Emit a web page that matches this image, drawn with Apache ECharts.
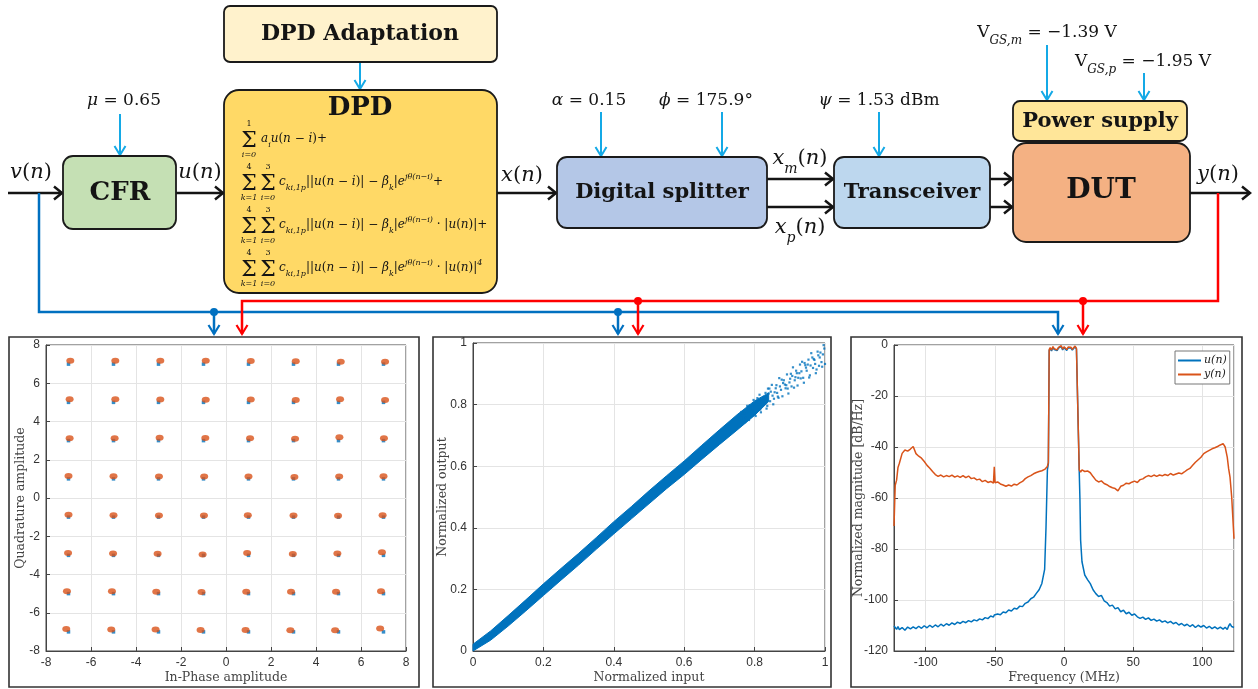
<!DOCTYPE html>
<html>
<head>
<meta charset="utf-8">
<script src="https://cdn.jsdelivr.net/npm/echarts@6/dist/echarts.min.js"></script>
<style>
html,body{margin:0;padding:0;background:#fff}
#main{width:1258px;height:689px}
</style>
</head>
<body>
<div id="main"></div>
<script>
// ---------- constellation (64-QAM) ----------
const qamLevels = [-7, -5, -3, -1, 1, 3, 5, 7];
// received symbol clusters, one row per quadrature level (top to bottom)
const rxRow7  = [[-6.92,7.18],[-4.92,7.18],[-2.92,7.17],[-0.9,7.17],[1.1,7.16],[3.1,7.15],[5.1,7.12],[7.07,7.13]];
const rxRow5  = [[-6.95,5.16],[-4.92,5.16],[-2.92,5.15],[-0.9,5.14],[1.1,5.15],[3.1,5.12],[5.07,5.16],[7.07,5.12]];
const rxRow3  = [[-6.95,3.13],[-4.95,3.13],[-2.95,3.15],[-0.92,3.14],[1.07,3.12],[3.07,3.1],[5.04,3.17],[7.02,3.12]];
const rxRow1  = [[-7.0,1.15],[-5.0,1.14],[-2.98,1.13],[-0.97,1.12],[1.0,1.13],[3.04,1.1],[5.03,1.13],[7.0,1.14]];
const rxRowM1 = [[-7.0,-0.88],[-5.0,-0.9],[-2.98,-0.92],[-0.98,-0.92],[0.97,-0.9],[3.0,-0.91],[4.98,-0.93],[6.96,-0.9]];
const rxRowM3 = [[-7.02,-2.88],[-5.02,-2.9],[-3.04,-2.92],[-1.04,-2.95],[0.94,-2.88],[2.97,-2.93],[4.95,-2.9],[6.93,-2.84]];
const rxRowM5 = [[-7.07,-4.87],[-5.07,-4.88],[-3.1,-4.9],[-1.09,-4.92],[0.9,-4.9],[2.89,-4.9],[4.89,-4.9],[6.89,-4.88]];
const rxRowM7 = [[-7.1,-6.85],[-5.1,-6.87],[-3.13,-6.88],[-1.13,-6.9],[0.87,-6.9],[2.86,-6.92],[4.85,-6.92],[6.85,-6.82]];

// ---------- AM/AM ----------
const amIn   = [0, 0.05, 0.1, 0.15, 0.2, 0.25, 0.3, 0.35, 0.4, 0.45, 0.5, 0.55, 0.6, 0.65, 0.7, 0.75, 0.8, 0.84];
const amLow  = [0, 0.035, 0.081, 0.13, 0.18, 0.23, 0.279, 0.33, 0.38, 0.429, 0.478, 0.527, 0.573, 0.622, 0.67, 0.717, 0.765, 0.81];
const amHigh = [0.022, 0.065, 0.115, 0.166, 0.218, 0.268, 0.317, 0.368, 0.42, 0.469, 0.52, 0.569, 0.617, 0.668, 0.718, 0.767, 0.812, 0.838];
const amSpread = [
  [0.762,0.776],[0.766,0.741],[0.771,0.771],[0.775,0.757],[0.779,0.796],[0.784,0.75],[0.788,0.79],[0.792,0.779],
  [0.797,0.815],[0.801,0.769],[0.805,0.81],[0.81,0.785],[0.814,0.832],[0.818,0.775],[0.823,0.814],[0.827,0.805],
  [0.831,0.838],[0.836,0.796],[0.84,0.836],[0.844,0.811],[0.849,0.864],[0.853,0.801],[0.857,0.84],[0.862,0.863],
  [0.866,0.826],[0.87,0.886],[0.875,0.848],[0.879,0.827],[0.883,0.879],[0.888,0.853],[0.892,0.898],[0.896,0.836],
  [0.901,0.884],[0.905,0.859],[0.909,0.921],[0.914,0.879],[0.918,0.91],[0.922,0.862],[0.927,0.902],[0.931,0.885],
  [0.935,0.939],[0.94,0.871],[0.944,0.928],[0.948,0.91],[0.953,0.946],[0.957,0.895],[0.961,0.967],[0.966,0.919],
  [0.97,0.945],[0.974,0.902],[0.979,0.972],[0.983,0.926],[0.987,0.969],[0.992,0.923],[0.996,0.993],[1.0,0.932],
  [0.764,0.764],[0.773,0.743],[0.782,0.791],[0.79,0.764],[0.799,0.793],[0.808,0.821],[0.816,0.784],[0.825,0.823],
  [0.834,0.787],[0.842,0.852],[0.851,0.829],[0.86,0.853],[0.868,0.822],[0.877,0.881],[0.886,0.865],[0.894,0.852],
  [0.903,0.9],[0.912,0.855],[0.92,0.902],[0.929,0.93],[0.938,0.887],[0.946,0.92],[0.955,0.888],[0.964,0.953],
  [0.972,0.932],[0.981,0.96],[0.99,0.938],[0.998,0.982],
  [0.769,0.756],[0.786,0.798],[0.803,0.763],[0.82,0.809],[0.838,0.852],[0.855,0.819],[0.872,0.859],[0.89,0.863],
  [0.907,0.893],[0.924,0.887],[0.942,0.935],[0.959,0.927],[0.976,0.914],[0.994,0.963],
  [0.846,0.842],[0.864,0.838],[0.881,0.87],[0.899,0.872],[0.916,0.889],[0.933,0.908],[0.951,0.93],[0.968,0.948],
  [0.985,0.953],[0.829,0.822],[0.812,0.8],[0.795,0.782]
];

// ---------- spectra ----------
const freqMHz = [
  -122.88,-122,-121,-120,-119,-117,-115,-113,-111,-109,
  -107,-105,-103,-101,-99,-97,-95,-93,-91,-89,
  -87,-85,-83,-81,-79,-77,-75,-73,-71,-69,
  -67,-65,-63,-61,-59,-57,-55,-53,-51,-50.4,
  -49.8,-48,-46,-44,-42,-40,-38,-36,-34,-32,
  -30,-28,-26,-24,-22,-20,-18,-16,-14,-13,
  -12,-11.3,-10.7,-10,-9,-8,-7,-6,-5,-4,-3,-2,-1,0,1,2,3,4,5,6,7,8,9,10,10.4,11,
  11.5,12,13,15,17,19,21,23,25,27,
  29,31,33,35,37,39,41,43,45,47,
  49,51,53,55,57,59,61,63,65,67,
  69,71,73,75,77,79,81,83,85,87,
  89,91,93,95,97,99,101,103,105,107,
  109,111,113,115,116.5,118,119,120,121.2,122.88
];
const yPsd = [
  -71.0,-55.0,-53.0,-48.0,-46.4,-42.5,-41.2,-41.6,-40.8,-39.8,
  -42.6,-43.6,-44.4,-45.7,-47.2,-48.3,-49.6,-50.8,-51.5,-51.0,
  -51.7,-51.2,-51.6,-51.0,-51.8,-51.3,-51.9,-51.2,-52.0,-51.4,
  -52.4,-52.1,-52.9,-52.6,-53.6,-53.1,-53.9,-53.5,-54.2,-47.8,
  -54.0,-53.7,-54.5,-54.9,-55.4,-54.9,-55.3,-54.6,-54.9,-54.1,
  -53.5,-52.4,-51.7,-51.2,-50.5,-50.0,-49.6,-49.3,-48.8,-48.5,
  -47.6,-46.0,-1.8,-1.0,-2.0,-0.6,-1.5,-0.8,-1.9,-0.9,-1.2,-0.3,-1.6,-0.7,-1.1,-1.8,-0.8,-1.4,-0.9,-1.7,-1.0,-0.4,-1.3,-0.8,-2.0,-49.0,
  -49.3,-49.8,-49.0,-49.6,-49.4,-50.1,-51.6,-53.0,-53.7,-53.3,
  -54.3,-54.8,-55.5,-56.0,-56.3,-57.2,-55.4,-55.0,-54.2,-54.4,
  -53.8,-53.4,-53.9,-52.8,-52.5,-51.7,-51.2,-51.6,-51.0,-51.5,
  -51.0,-51.3,-50.8,-51.2,-50.4,-51.0,-50.6,-50.2,-50.5,-49.8,
  -49.0,-48.4,-47.2,-46.0,-45.0,-44.0,-42.6,-41.9,-41.3,-40.7,
  -40.3,-39.8,-39.2,-38.7,-40.0,-44.0,-48.5,-51.8,-59.5,-76.0
];
const uPsd = [
  -110.2,-110.9,-111.5,-110.4,-111.6,-110.8,-111.9,-110.6,-111.3,-110.5,
  -111.2,-110.3,-111.1,-110.1,-110.9,-109.9,-110.7,-109.8,-110.5,-109.5,
  -110.2,-109.3,-109.9,-109.0,-109.6,-108.7,-109.2,-108.4,-108.9,-108.1,
  -108.6,-107.8,-108.2,-107.4,-107.8,-106.9,-107.3,-106.3,-106.7,-105.9,
  -106.4,-105.5,-105.8,-104.7,-105.0,-103.9,-104.3,-103.2,-103.5,-102.4,
  -102.6,-101.3,-100.8,-99.5,-98.9,-97.4,-96.0,-93.5,-88.0,-71.5,
  -49.0,-46.5,-2.2,-1.3,-2.3,-0.9,-1.8,-1.1,-2.2,-1.2,-1.5,-0.6,-1.9,-1.0,-1.4,-2.1,-1.1,-1.7,-1.2,-2.0,-1.3,-0.7,-1.6,-1.1,-2.3,-49.3,
  -60.0,-76.5,-85.0,-90.2,-92.0,-93.6,-96.0,-97.5,-98.6,-98.2,
  -100.3,-101.0,-102.4,-102.0,-103.5,-103.0,-104.6,-104.0,-105.4,-104.8,
  -106.0,-105.5,-106.6,-107.2,-106.7,-107.6,-107.0,-108.0,-107.5,-108.3,
  -107.8,-108.7,-108.2,-109.0,-108.4,-109.3,-108.8,-109.8,-109.2,-110.1,
  -109.5,-110.4,-109.7,-110.8,-109.9,-110.6,-110.0,-111.0,-110.3,-111.2,
  -110.5,-111.3,-110.6,-111.4,-110.7,-111.6,-110.2,-109.3,-110.4,-110.8
];
const legendNames = ['u(n)', 'y(n)'];

// ---------- styling ----------
const SERIF = '"DejaVu Serif", serif';
const AXFONT = '"Liberation Sans", Arial, sans-serif';
const C_BLUE = '#0072BD', C_ORANGE = '#D95319';
const C_FEED_BLUE = '#0070C0', C_FEED_RED = '#FF0000', C_PARAM = '#14A9E6';
const INK = '#141414';

// ---------- block diagram ----------
const g = [];
function rbox(x, y, w, h, r, fill) {
  g.push({type: 'rect', z: 10, shape: {x, y, width: w, height: h, r}, style: {fill, stroke: '#1a1a1a', lineWidth: 1.8}});
}
function line(points, color, width) {
  g.push({type: 'polyline', z: 6, shape: {points}, style: {stroke: color, lineWidth: width, fill: 'none', lineJoin: 'miter'}});
}
function headR(x, y, color, w) { line([[x - 8, y - 6.5], [x, y], [x - 8, y + 6.5]], color, w); }
function headD(x, y, color, w) { line([[x - 5.5, y - 9], [x, y], [x + 5.5, y - 9]], color, w); }
function dot(x, y, color) { g.push({type: 'circle', z: 8, shape: {cx: x, cy: y, r: 4}, style: {fill: color}}); }
function boldLabel(x, y, text, size) {
  g.push({type: 'text', z: 20, x, y, style: {text, fontFamily: SERIF, fontWeight: 'bold', fontSize: size, fill: INK, align: 'center', verticalAlign: 'middle'}});
}
function math(x, y, text, size, align) {
  const sc = Math.round(size * 0.68);
  const lh = Math.round(size * 1.6);
  g.push({type: 'text', z: 20, x, y, style: {
    text, align: align || 'center', verticalAlign: 'middle', fontFamily: SERIF, fontSize: size, fill: INK,
    rich: {
      i: {fontStyle: 'italic', fontFamily: SERIF, fontSize: size, fill: INK, lineHeight: lh},
      r: {fontFamily: SERIF, fontSize: size, fill: INK, lineHeight: lh},
      sb: {fontStyle: 'italic', fontFamily: SERIF, fontSize: sc, fill: INK, verticalAlign: 'bottom'},
      sp: {fontStyle: 'italic', fontFamily: SERIF, fontSize: sc, fill: INK, verticalAlign: 'top'}
    }
  }});
}
function sigma(x, y, up, low) {
  g.push({type: 'text', z: 20, x, y, style: {text: 'Σ', fontFamily: SERIF, fontSize: 22, fill: INK, align: 'center', verticalAlign: 'middle'}});
  g.push({type: 'text', z: 20, x, y: y - 17, style: {text: up, fontFamily: SERIF, fontSize: 8, fill: INK, align: 'center', verticalAlign: 'middle'}});
  g.push({type: 'text', z: 20, x, y: y + 14, style: {text: low, fontFamily: SERIF, fontStyle: 'italic', fontSize: 8, fill: INK, align: 'center', verticalAlign: 'middle'}});
}

// blocks
rbox(224, 6, 273, 56, 6, '#FFF2CC');
rbox(224, 90, 273, 203, 15, '#FFD966');
rbox(63, 156, 113, 73, 10, '#C5E0B4');
rbox(557, 157, 210, 71, 10, '#B4C7E7');
rbox(834, 157, 156, 71, 10, '#BDD7EE');
rbox(1013, 143, 177, 99, 13, '#F4B183');
rbox(1013, 101, 174, 40, 7, '#FFE699');

boldLabel(360, 34, 'DPD Adaptation', 22);
boldLabel(360, 108, 'DPD', 26);
boldLabel(120, 193, 'CFR', 26);
boldLabel(662, 193, 'Digital splitter', 21);
boldLabel(912, 193, 'Transceiver', 21);
boldLabel(1101, 191, 'DUT', 28);
boldLabel(1100, 122, 'Power supply', 21);

// DPD model terms
const TERM = '{i|c}{sb|ki,1p}{r|||}{i|u}{r|(}{i|n}{r| − }{i|i}{r|)| − }{i|β}{sb|k}{r||}{i|e}{sp|jθ(n−i)}';
sigma(249, 141, '1', 'i=0');
math(261, 139, '{i|a}{sb|i}{i|u}{r|(}{i|n}{r| − }{i|i}{r|)+}', 12, 'left');
sigma(249, 184, '4', 'k=1'); sigma(268, 184, '3', 'i=0');
math(279, 182, TERM + '{r|+}', 12, 'left');
sigma(249, 227, '4', 'k=1'); sigma(268, 227, '3', 'i=0');
math(279, 225, TERM + '{r| · |}{i|u}{r|(}{i|n}{r|)|+}', 12, 'left');
sigma(249, 270, '4', 'k=1'); sigma(268, 270, '3', 'i=0');
math(279, 268, TERM + '{r| · |}{i|u}{r|(}{i|n}{r|)|}{sp|4}', 12, 'left');

// signal path
line([[8, 193], [62, 193]], INK, 2.5); headR(62, 193, INK, 2.5);
line([[176, 193], [223, 193]], INK, 2.5); headR(223, 193, INK, 2.5);
line([[497, 193], [556, 193]], INK, 2.5); headR(556, 193, INK, 2.5);
line([[767, 179], [833, 179]], INK, 2.5); headR(833, 179, INK, 2.5);
line([[767, 207], [833, 207]], INK, 2.5); headR(833, 207, INK, 2.5);
line([[990, 179], [1012, 179]], INK, 2.5); headR(1012, 179, INK, 2.5);
line([[990, 207], [1012, 207]], INK, 2.5); headR(1012, 207, INK, 2.5);
line([[1190, 193], [1250, 193]], INK, 2.5); headR(1250, 193, INK, 2.5);

math(31, 173, '{i|v}{r|(}{i|n}{r|)}', 21);
math(200, 173, '{i|u}{r|(}{i|n}{r|)}', 21);
math(522, 176, '{i|x}{r|(}{i|n}{r|)}', 21);
math(800, 159, '{i|x}{sb|m}{r|(}{i|n}{r|)}', 21);
math(800, 228, '{i|x}{sb|p}{r|(}{i|n}{r|)}', 21);
math(1218, 175, '{i|y}{r|(}{i|n}{r|)}', 21);

// tuning parameters
math(124, 101, '{i|μ}{r| = 0.65}', 17);
math(589, 101, '{i|α}{r| = 0.15}', 17);
math(706, 101, '{i|ϕ}{r| = 175.9°}', 17);
math(879, 101, '{i|ψ}{r| = 1.53 dBm}', 17);
math(1047, 33, '{r|V}{sb|GS,m}{r| = −1.39 V}', 17);
math(1143, 62, '{r|V}{sb|GS,p}{r| = −1.95 V}', 17);

line([[360, 62], [360, 89]], C_PARAM, 2); headD(360, 89, C_PARAM, 2);
line([[120, 114], [120, 155]], C_PARAM, 2); headD(120, 155, C_PARAM, 2);
line([[601, 112], [601, 156]], C_PARAM, 2); headD(601, 156, C_PARAM, 2);
line([[722, 112], [722, 156]], C_PARAM, 2); headD(722, 156, C_PARAM, 2);
line([[879, 112], [879, 156]], C_PARAM, 2); headD(879, 156, C_PARAM, 2);
line([[1047, 45], [1047, 100]], C_PARAM, 2); headD(1047, 100, C_PARAM, 2);
line([[1144, 73], [1144, 100]], C_PARAM, 2); headD(1144, 100, C_PARAM, 2);

// observation paths to the plots
line([[39, 193], [39, 312], [1058, 312], [1058, 334]], C_FEED_BLUE, 2.5); headD(1058, 334, C_FEED_BLUE, 2.2);
line([[214, 312], [214, 334]], C_FEED_BLUE, 2.5); headD(214, 334, C_FEED_BLUE, 2.2); dot(214, 312, C_FEED_BLUE);
line([[618, 312], [618, 334]], C_FEED_BLUE, 2.5); headD(618, 334, C_FEED_BLUE, 2.2); dot(618, 312, C_FEED_BLUE);
line([[1218, 193], [1218, 301], [242, 301], [242, 334]], C_FEED_RED, 2.5); headD(242, 334, C_FEED_RED, 2.2);
line([[638, 301], [638, 334]], C_FEED_RED, 2.5); headD(638, 334, C_FEED_RED, 2.2); dot(638, 301, C_FEED_RED);
line([[1083, 301], [1083, 334]], C_FEED_RED, 2.5); headD(1083, 334, C_FEED_RED, 2.2); dot(1083, 301, C_FEED_RED);

// plot frames
[[9, 337, 410, 350], [433, 337, 398, 350], [851, 337, 391, 350]].forEach(function (f) {
  g.push({type: 'rect', z: 30, shape: {x: f[0], y: f[1], width: f[2], height: f[3]}, style: {fill: 'none', stroke: '#333', lineWidth: 1.6}});
});

// ---------- axes ----------
function axisCommon(extra) {
  return Object.assign({
    type: 'value',
    axisLine: {show: true, onZero: false, lineStyle: {color: '#444', width: 1}},
    axisTick: {show: true, inside: true, length: 4, lineStyle: {color: '#444'}},
    splitLine: {show: true, lineStyle: {color: '#e4e4e4', width: 1}},
    axisLabel: {fontFamily: AXFONT, fontSize: 12, color: '#333', margin: 6},
    nameLocation: 'middle',
    nameMoveOverlap: false,
    nameTextStyle: {fontFamily: SERIF, fontSize: 12.5, color: '#444'}
  }, extra);
}

const bluePts = [];
qamLevels.forEach(function (q) { qamLevels.forEach(function (i) { bluePts.push([i, q]); }); });
const rxPts = [].concat(rxRow7, rxRow5, rxRow3, rxRow1, rxRowM1, rxRowM3, rxRowM5, rxRowM7);
const psdU = freqMHz.map(function (f, k) { return [f, uPsd[k]]; });
const psdY = freqMHz.map(function (f, k) { return [f, yPsd[k]]; });

const option = {
  animation: false,
  backgroundColor: '#fff',
  grid: [
    {left: 46, top: 345, width: 360, height: 306, show: true, borderColor: '#444', borderWidth: 1},
    {left: 473, top: 343, width: 352, height: 308, show: true, borderColor: '#444', borderWidth: 1},
    {left: 894, top: 345, width: 340, height: 306, show: true, borderColor: '#444', borderWidth: 1}
  ],
  xAxis: [
    axisCommon({gridIndex: 0, min: -8, max: 8, interval: 2, name: 'In-Phase amplitude', nameGap: 20}),
    axisCommon({gridIndex: 1, min: 0, max: 1, interval: 0.2, name: 'Normalized input', nameGap: 20}),
    axisCommon({gridIndex: 2, min: -122.88, max: 122.88, splitNumber: 5, name: 'Frequency (MHz)', nameGap: 20,
      axisLabel: {fontFamily: AXFONT, fontSize: 12, color: '#333', margin: 6, showMinLabel: false, showMaxLabel: false}})
  ],
  yAxis: [
    axisCommon({gridIndex: 0, min: -8, max: 8, interval: 2, name: 'Quadrature amplitude', nameGap: 19}),
    axisCommon({gridIndex: 1, min: 0, max: 1, interval: 0.2, name: 'Normalized output', nameGap: 24}),
    axisCommon({gridIndex: 2, min: -120, max: 0, interval: 20, name: 'Normalized magnitude [dB/Hz]', nameGap: 29})
  ],
  legend: {
    data: legendNames, left: 1175, top: 351, orient: 'vertical', icon: 'rect',
    itemWidth: 23, itemHeight: 2, itemGap: 3, padding: [4, 3, 4, 3],
    backgroundColor: '#fff', borderColor: '#777', borderWidth: 1,
    textStyle: {fontFamily: SERIF, fontStyle: 'italic', fontSize: 11, color: '#222', padding: [0, 0, 0, -2]}
  },
  graphic: {elements: g},
  series: [
    {type: 'scatter', xAxisIndex: 0, yAxisIndex: 0, data: bluePts, symbol: 'rect', symbolSize: 3.5,
      itemStyle: {color: C_BLUE}, silent: true, z: 2},
    {type: 'scatter', xAxisIndex: 0, yAxisIndex: 0, data: rxPts, symbol: 'circle', symbolSize: [8, 6],
      itemStyle: {color: C_ORANGE}, silent: true, z: 3},
    {type: 'custom', xAxisIndex: 1, yAxisIndex: 1, data: [[0, 0]], silent: true, z: 2,
      renderItem: function (params, api) {
        const pts = [];
        for (let k = 0; k < amIn.length; k++) pts.push(api.coord([amIn[k], amHigh[k]]));
        for (let k = amIn.length - 1; k >= 0; k--) pts.push(api.coord([amIn[k], amLow[k]]));
        return {type: 'polygon', shape: {points: pts}, style: {fill: C_BLUE, stroke: C_BLUE, lineWidth: 1}};
      }},
    {type: 'scatter', xAxisIndex: 1, yAxisIndex: 1, data: amSpread, symbol: 'rect', symbolSize: 2.2,
      itemStyle: {color: C_BLUE}, silent: true, z: 3},
    {type: 'line', name: legendNames[0], xAxisIndex: 2, yAxisIndex: 2, data: psdU, symbol: 'none',
      lineStyle: {color: C_BLUE, width: 1.5}, itemStyle: {color: C_BLUE}, z: 2},
    {type: 'line', name: legendNames[1], xAxisIndex: 2, yAxisIndex: 2, data: psdY, symbol: 'none',
      lineStyle: {color: C_ORANGE, width: 1.5}, itemStyle: {color: C_ORANGE}, z: 3}
  ]
};

const chart = echarts.init(document.getElementById('main'), null, {renderer: 'canvas'});
chart.setOption(option);
</script>
</body>
</html>
